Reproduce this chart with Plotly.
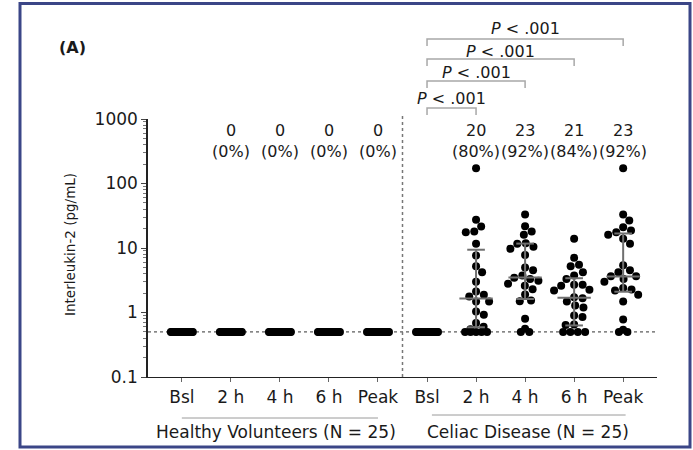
import numpy as np
import plotly.graph_objects as go

# ---------------- data ----------------
categories = ["Bsl", "2 h", "4 h", "6 h", "Peak", "Bsl", "2 h", "4 h", "6 h", "Peak"]
group_labels = ["Healthy Volunteers (N = 25)", "Celiac Disease (N = 25)"]

hv_bsl = [0.5, 0.5, 0.5, 0.5, 0.5, 0.5, 0.5, 0.5, 0.5, 0.5, 0.5, 0.5, 0.5,
          0.5, 0.5, 0.5, 0.5, 0.5, 0.5, 0.5, 0.5, 0.5, 0.5, 0.5, 0.5]
hv_2h = [0.5, 0.5, 0.5, 0.5, 0.5, 0.5, 0.5, 0.5, 0.5, 0.5, 0.5, 0.5, 0.5,
         0.5, 0.5, 0.5, 0.5, 0.5, 0.5, 0.5, 0.5, 0.5, 0.5, 0.5, 0.5]
hv_4h = [0.5, 0.5, 0.5, 0.5, 0.5, 0.5, 0.5, 0.5, 0.5, 0.5, 0.5, 0.5, 0.5,
         0.5, 0.5, 0.5, 0.5, 0.5, 0.5, 0.5, 0.5, 0.5, 0.5, 0.5, 0.5]
hv_6h = [0.5, 0.5, 0.5, 0.5, 0.5, 0.5, 0.5, 0.5, 0.5, 0.5, 0.5, 0.5, 0.5,
         0.5, 0.5, 0.5, 0.5, 0.5, 0.5, 0.5, 0.5, 0.5, 0.5, 0.5, 0.5]
hv_peak = [0.5, 0.5, 0.5, 0.5, 0.5, 0.5, 0.5, 0.5, 0.5, 0.5, 0.5, 0.5, 0.5,
           0.5, 0.5, 0.5, 0.5, 0.5, 0.5, 0.5, 0.5, 0.5, 0.5, 0.5, 0.5]

cd_bsl = [0.5, 0.5, 0.5, 0.5, 0.5, 0.5, 0.5, 0.5, 0.5, 0.5, 0.5, 0.5, 0.5,
          0.5, 0.5, 0.5, 0.5, 0.5, 0.5, 0.5, 0.5, 0.5, 0.5, 0.5, 0.5]
cd_2h = [172, 27.4, 21.5, 18, 17.6, 11.6, 7.65, 5.2, 4.2, 3.0, 2.12, 1.88, 1.77,
         1.48, 1.48, 1.04, 0.92, 0.69, 0.6, 0.55, 0.5, 0.5, 0.5, 0.5, 0.5]
cd_4h = [33, 21.8, 18, 16, 11.9, 10.5, 11.6, 9.7, 7.8, 5.0, 4.5, 3.75, 3.3,
         3.45, 3.1, 2.8, 2.6, 2.3, 1.9, 1.53, 1.5, 0.8, 0.56, 0.5, 0.5]
cd_6h = [13.9, 7.05, 5.5, 5.2, 4.2, 3.75, 3.3, 2.6, 2.7, 2.7, 2.25, 2.2, 1.67,
         1.73, 1.48, 1.28, 1.2, 0.9, 0.85, 0.65, 0.64, 0.5, 0.5, 0.5, 0.5]
cd_peak = [172, 33, 26.7, 21, 18.7, 16, 17.6, 13.9, 11.6, 5.4, 4.5, 4.2, 3.65,
           3.65, 3.0, 3.3, 2.4, 2.27, 2.2, 1.88, 1.48, 0.78, 0.54, 0.5, 0.5]

series = [hv_bsl, hv_2h, hv_4h, hv_6h, hv_peak, cd_bsl, cd_2h, cd_4h, cd_6h, cd_peak]

# median and interquartile range for celiac post-challenge timepoints
iqr_positions = [6, 7, 8, 9]
iqr_median = [1.65, 3.5, 1.7, 3.6]
iqr_q1 = [0.59, 1.62, 0.63, 2.1]
iqr_q3 = [9.4, 11.7, 3.4, 16.8]

# responders above LLOQ
resp_n = [None, 0, 0, 0, 0, None, 20, 23, 21, 23]
resp_pct = [None, 0, 0, 0, 0, None, 80, 92, 84, 92]

# significance brackets (from Bsl celiac to each timepoint)
p_pairs = [(5, 6), (5, 7), (5, 8), (5, 9)]
p_text = ["P < .001", "P < .001", "P < .001", "P < .001"]

lloq = 0.5
y_ticks = [0.1, 1, 10, 100, 1000]
y_ticktext = ["0.1", "1", "10", "100", "1000"]

# ---------------- layout geometry ----------------
W, H = 693, 450
ML, MR, MT, MB = 148, 36, 119, 73
PW, PH = W - ML - MR, H - MT - MB
X_RANGE = [-0.69, 9.69]
PX_PER_UNIT = PW / (X_RANGE[1] - X_RANGE[0])
PX_PER_DEC = PH / 4.0
DOT_GAP = 8.5
BASE_HALF = 11.0
FONT = "DejaVu Sans"
TXT = "#1a1a1a"


def py2paper(py):
    return (H - MB - py) / PH


def px2paper(px):
    return (px - ML) / PW


def swarm_offsets(vals):
    vals = list(vals)
    ys = np.log10(np.asarray(vals, float)) * PX_PER_DEC
    n = len(vals)
    off = np.zeros(n)
    base = [i for i in range(n) if vals[i] <= lloq]
    nb = len(base)
    if nb > 1:
        half = min(BASE_HALF, (nb - 1) * DOT_GAP / 2)
        off[base] = np.linspace(-half, half, nb)
    rest = sorted([i for i in range(n) if vals[i] > lloq], key=lambda i: -vals[i])
    placed = []
    for i in rest:
        y = ys[i]
        cands = [0.0]
        for (px, pyy) in placed:
            dy = abs(pyy - y)
            if dy < DOT_GAP:
                dx = np.sqrt(DOT_GAP ** 2 - dy ** 2)
                cands += [px + dx, px - dx]
        cands.sort(key=lambda c: (round(abs(c), 3), -c))
        chosen = cands[-1]
        for c in cands:
            if all((c - px) ** 2 + (y - pyy) ** 2 >= DOT_GAP ** 2 - 1e-6 for px, pyy in placed):
                chosen = c
                break
        placed.append((chosen, y))
        off[i] = chosen
    return off / PX_PER_UNIT


fig = go.Figure()

# LLOQ dotted line
fig.add_trace(go.Scatter(x=X_RANGE, y=[lloq, lloq], mode="lines",
                         line=dict(color="#333333", width=1, dash="dot"),
                         hoverinfo="skip", showlegend=False, cliponaxis=False))

# dots
for pos, vals in enumerate(series):
    off = swarm_offsets(vals)
    fig.add_trace(go.Scatter(x=pos + off, y=vals, mode="markers",
                             marker=dict(size=8, color="black", line=dict(width=0)),
                             showlegend=False, cliponaxis=False))

# median + IQR bars
ex, ey = [], []
for pos, m, q1, q3 in zip(iqr_positions, iqr_median, iqr_q1, iqr_q3):
    ex += [pos, pos, None, pos - 0.18, pos + 0.18, None, pos - 0.18, pos + 0.18, None,
           pos - 0.34, pos + 0.34, None]
    ey += [q1, q3, None, q1, q1, None, q3, q3, None, m, m, None]
fig.add_trace(go.Scatter(x=ex, y=ey, mode="lines", line=dict(color="#6f6f6f", width=2),
                         hoverinfo="skip", showlegend=False, cliponaxis=False))

shapes = []
annotations = []


def label(x, y, text, size, xref="x", yref="paper", **kw):
    d = dict(x=x, y=y, xref=xref, yref=yref, text=text, showarrow=False,
             xanchor="center", yanchor="middle",
             font=dict(family=FONT, size=size, color=TXT))
    d.update(kw)
    annotations.append(d)


# vertical separator
shapes.append(dict(type="line", xref="x", yref="paper", x0=4.5, x1=4.5,
                   y0=0, y1=py2paper(116), line=dict(color="#777777", width=1.5, dash="dot")))

# responders labels
for pos, (n, pct) in enumerate(zip(resp_n, resp_pct)):
    if n is None:
        continue
    label(pos, py2paper(130), str(n), 16)
    label(pos, py2paper(151), f"({pct}%)", 16)

# significance brackets
bracket_py = [108, 81, 59, 39]
text_py = [98, 73, 51, 28]
for (a, b), t, bpy, tpy in zip(p_pairs, p_text, bracket_py, text_py):
    y_top = py2paper(bpy)
    y_bot = py2paper(bpy + 7)
    shapes.append(dict(type="path", xref="x", yref="paper",
                       path=f"M {a},{y_bot} L {a},{y_top} L {b},{y_top} L {b},{y_bot}",
                       line=dict(color="#a8a8a8", width=1.5)))
    label((a + b) / 2, py2paper(tpy), "<i>P</i>" + t[1:], 16)

# group underlines and labels
group_spans = [(0, 4), (5.1, 9.05)]
group_line_py = [418, 415]
group_text_x = [1.91, 7.05]
for (g0, g1), lpy, tx, lab in zip(group_spans, group_line_py, group_text_x, group_labels):
    shapes.append(dict(type="line", xref="x", yref="paper", x0=g0, x1=g1,
                       y0=py2paper(lpy), y1=py2paper(lpy), line=dict(color="#9a9a9a", width=1)))
    label(tx, py2paper(432), lab, 17)

# y-axis title
label(px2paper(70), py2paper(245), "Interleukin-2 (pg/mL)", 13.5, xref="paper", textangle=-90)
# panel label
label(px2paper(72), py2paper(48), "<b>(A)</b>", 16, xref="paper")

# outer frame
shapes.append(dict(type="rect", xref="paper", yref="paper",
                   x0=px2paper(20), x1=px2paper(690), y0=py2paper(447), y1=py2paper(3.5),
                   line=dict(color="#3b4687", width=3)))

minor_vals = []
for dec in [0.1, 1, 10, 100]:
    minor_vals += [dec * k for k in range(2, 10)]

fig.update_layout(
    width=W, height=H,
    margin=dict(l=ML, r=MR, t=MT, b=MB),
    paper_bgcolor="white", plot_bgcolor="white",
    showlegend=False,
    shapes=shapes, annotations=annotations,
    xaxis=dict(range=X_RANGE, tickmode="array", tickvals=list(range(len(categories))),
               ticktext=categories, showline=True, linecolor="#222222", linewidth=1.2,
               ticks="outside", ticklen=4, tickcolor="#666666", showgrid=False, zeroline=False,
               tickfont=dict(family=FONT, size=17, color=TXT)),
    yaxis=dict(type="log", range=[-1, 3], tickmode="array", tickvals=y_ticks,
               ticktext=y_ticktext, showline=True, linecolor="#222222", linewidth=1.5,
               ticks="outside", ticklen=5, tickcolor="#444444", showgrid=False, zeroline=False,
               minor=dict(tickmode="array", tickvals=minor_vals, ticks="outside",
                          ticklen=3, tickcolor="#777777"),
               tickfont=dict(family=FONT, size=17, color=TXT)),
)

fig.write_html("out.html")
